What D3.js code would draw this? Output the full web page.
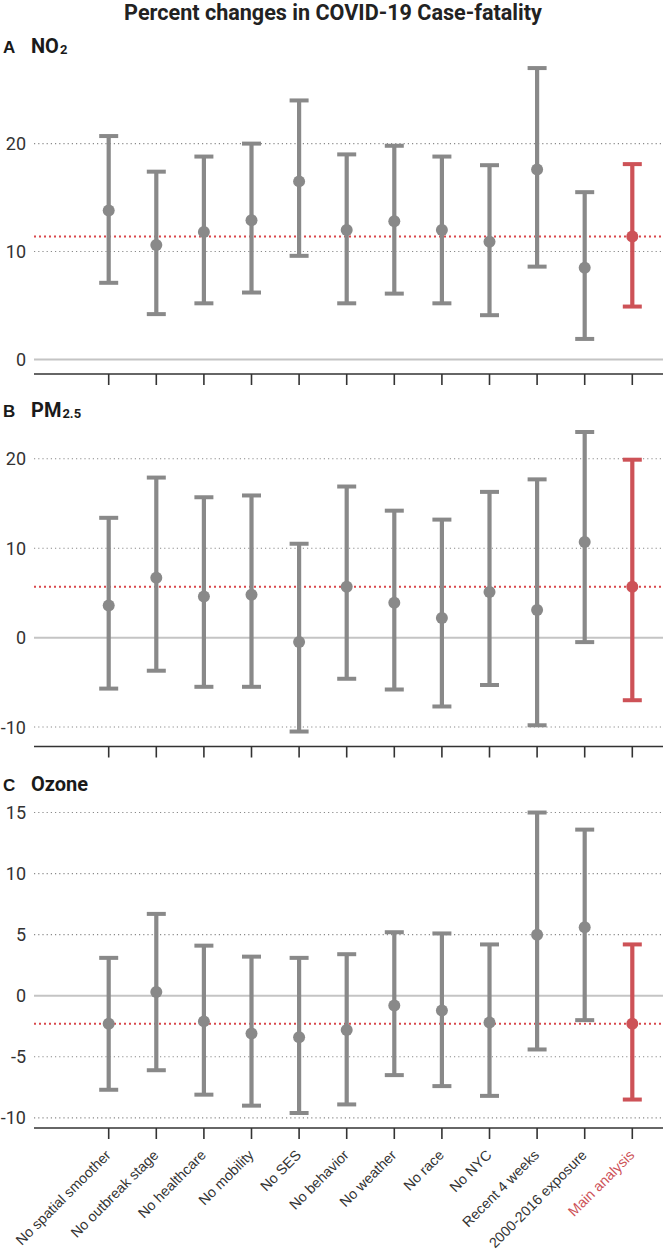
<!DOCTYPE html>
<html>
<head>
<meta charset="utf-8">
<script src="https://cdn.jsdelivr.net/npm/d3@7"></script>
<style>
  html, body { margin: 0; padding: 0; background: #fff; }
  svg { display: block; }
</style>
</head>
<body>
<svg id="chart" width="668" height="1252"></svg>
<script>
const categories = ["No spatial smoother", "No outbreak stage", "No healthcare", "No mobility", "No SES",
  "No behavior", "No weather", "No race", "No NYC", "Recent 4 weeks", "2000-2016 exposure", "Main analysis"];

const no2Est = [13.8, 10.6, 11.8, 12.9, 16.5, 12.0, 12.8, 12.0, 10.9, 17.6, 8.5, 11.4];
const no2Lo  = [7.1, 4.2, 5.2, 6.2, 9.6, 5.2, 6.1, 5.2, 4.1, 8.6, 1.9, 4.9];
const no2Hi  = [20.7, 17.4, 18.8, 20.0, 24.0, 19.0, 19.8, 18.8, 18.0, 27.0, 15.5, 18.1];

const pmEst = [3.6, 6.7, 4.6, 4.8, -0.5, 5.7, 3.9, 2.2, 5.1, 3.1, 10.7, 5.7];
const pmLo  = [-5.7, -3.7, -5.5, -5.5, -10.5, -4.6, -5.8, -7.7, -5.3, -9.8, -0.5, -7.0];
const pmHi  = [13.4, 17.9, 15.7, 15.9, 10.5, 16.9, 14.2, 13.2, 16.3, 17.7, 23.0, 19.9];

const o3Est = [-2.3, 0.3, -2.1, -3.1, -3.4, -2.8, -0.8, -1.2, -2.2, 5.0, 5.6, -2.3];
const o3Lo  = [-7.7, -6.1, -8.1, -9.0, -9.6, -8.9, -6.5, -7.4, -8.2, -4.4, -2.0, -8.5];
const o3Hi  = [3.1, 6.7, 4.1, 3.2, 3.1, 3.4, 5.2, 5.1, 4.2, 15.0, 13.6, 4.2];

const no2Ticks = [0, 10, 20];
const pmTicks = [-10, 0, 10, 20];
const o3Ticks = [-10, -5, 0, 5, 10, 15];

const title = "Percent changes in COVID-19 Case-fatality";
const mainLabel = "Main analysis";

const GRAY = "#898989", RED = "#cd5257", REDLINE = "#d9484c";
const LEFT = 34, RIGHT = 663;

const svg = d3.select("#chart");

const t = svg.append("text")
  .attr("x", 333).attr("y", 20)
  .attr("text-anchor", "middle")
  .attr("font-family", "Roboto, sans-serif")
  .attr("font-weight", "bold")
  .attr("font-size", 20)
  .attr("fill", "#222")
  .text(title);
const tl = t.node().getComputedTextLength();
if (tl > 0) t.attr("font-size", Math.min(23, 20 * 418 / tl));

const x = d3.scalePoint().domain(categories).range([108.7, 632.3]);

const panels = [
  { letter: "A", name: "NO", sub: "2", est: no2Est, lo: no2Lo, hi: no2Hi, ticks: no2Ticks, top: 53.5, bottom: 374, labelY: 53 },
  { letter: "B", name: "PM", sub: "2.5", est: pmEst, lo: pmLo, hi: pmHi, ticks: pmTicks, top: 417, bottom: 746.5, labelY: 417 },
  { letter: "C", name: "Ozone", sub: "", est: o3Est, lo: o3Lo, hi: o3Hi, ticks: o3Ticks, top: 797.5, bottom: 1128, labelY: 791 }
];

panels.forEach((p, pi) => {
  const g = svg.append("g");
  const mn = Math.min(0, d3.min(p.lo)), mx = Math.max(0, d3.max(p.hi));
  const pad = (mx - mn) * 0.05;
  const y = d3.scaleLinear().domain([mn - pad, mx + pad]).range([p.bottom, p.top]);

  // panel label
  const lab = g.append("text").attr("y", p.labelY).attr("fill", "#1a1a1a").attr("font-weight", "bold");
  lab.append("tspan").attr("x", 3).attr("font-family", "'Liberation Sans', Arial, sans-serif").attr("font-size", 17).text(p.letter);
  lab.append("tspan").attr("x", 31).attr("font-family", "Roboto, sans-serif").attr("font-size", 20).text(p.name);
  if (p.sub) lab.append("tspan").attr("font-family", "Roboto, sans-serif").attr("font-size", 13).attr("dy", 1).attr("dx", 1).text(p.sub);

  // gridlines (dotted) for non-zero ticks
  g.selectAll(".grid").data(p.ticks.filter(t => t !== 0)).join("line")
    .attr("x1", LEFT).attr("x2", RIGHT)
    .attr("y1", d => y(d)).attr("y2", d => y(d))
    .attr("stroke", "#8a8a8a").attr("stroke-width", 1.1)
    .attr("stroke-dasharray", "1.2,3");

  // zero line
  g.append("line")
    .attr("x1", LEFT).attr("x2", RIGHT)
    .attr("y1", y(0)).attr("y2", y(0))
    .attr("stroke", "#c4c4c4").attr("stroke-width", 2);

  // y tick labels
  g.selectAll(".ytl").data(p.ticks).join("text")
    .attr("x", 26).attr("y", d => y(d)).attr("dy", "0.36em")
    .attr("text-anchor", "end")
    .attr("font-family", "Roboto, sans-serif").attr("font-size", 18)
    .attr("fill", "#333")
    .text(d => d3.format("d")(d).replace("−", "-"));

  // main reference line
  const mainVal = p.est[categories.indexOf(mainLabel)];
  g.append("line")
    .attr("x1", LEFT).attr("x2", RIGHT)
    .attr("y1", y(mainVal)).attr("y2", y(mainVal))
    .attr("stroke", REDLINE).attr("stroke-width", 2)
    .attr("stroke-dasharray", "2,3");

  const data = categories.map((c, i) => ({ c, est: p.est[i], lo: p.lo[i], hi: p.hi[i] }));
  const col = d => d.c === mainLabel ? RED : GRAY;

  const bars = g.selectAll(".eb").data(data).join("g");
  bars.append("line")
    .attr("x1", d => x(d.c)).attr("x2", d => x(d.c))
    .attr("y1", d => y(d.lo)).attr("y2", d => y(d.hi))
    .attr("stroke", col).attr("stroke-width", 4.2);
  bars.append("line")
    .attr("x1", d => x(d.c) - 9.5).attr("x2", d => x(d.c) + 9.5)
    .attr("y1", d => y(d.hi)).attr("y2", d => y(d.hi))
    .attr("stroke", col).attr("stroke-width", 4);
  bars.append("line")
    .attr("x1", d => x(d.c) - 9.5).attr("x2", d => x(d.c) + 9.5)
    .attr("y1", d => y(d.lo)).attr("y2", d => y(d.lo))
    .attr("stroke", col).attr("stroke-width", 4);
  bars.append("circle")
    .attr("cx", d => x(d.c)).attr("cy", d => y(d.est)).attr("r", 6)
    .attr("fill", col);

  // bottom axis
  const ax = g.append("g").attr("transform", `translate(0,${p.bottom})`);
  ax.append("line").attr("x1", LEFT).attr("x2", RIGHT).attr("y1", 0).attr("y2", 0)
    .attr("stroke", "#333").attr("stroke-width", 1.6);
  ax.selectAll(".tk").data(categories).join("line")
    .attr("x1", d => x(d)).attr("x2", d => x(d)).attr("y1", 0).attr("y2", 11)
    .attr("stroke", "#333").attr("stroke-width", 1.6);

  if (pi === panels.length - 1) {
    ax.selectAll(".xl").data(categories).join("text")
      .attr("transform", d => `translate(${x(d) + 3},${28}) rotate(-45)`)
      .attr("text-anchor", "end")
      .attr("font-family", "'Liberation Sans', Arial, sans-serif")
      .attr("font-size", 14.3)
      .attr("fill", d => d === mainLabel ? RED : "#333")
      .text(d => d);
  }
});
</script>
</body>
</html>
